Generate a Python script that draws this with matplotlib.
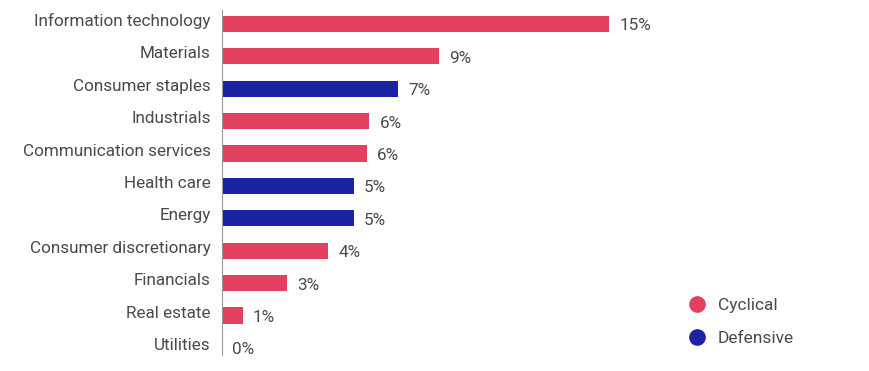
import matplotlib
matplotlib.use("Agg")
import matplotlib.pyplot as plt
import matplotlib.transforms as mtransforms
from matplotlib.lines import Line2D

sectors = ["Information technology", "Materials", "Consumer staples", "Industrials",
           "Communication services", "Health care", "Energy", "Consumer discretionary",
           "Financials", "Real estate", "Utilities"]
values = [15.0, 8.4, 6.8, 5.7, 5.6, 5.1, 5.1, 4.1, 2.5, 0.8, 0.0]
labels = ["15%", "9%", "7%", "6%", "6%", "5%", "5%", "4%", "3%", "1%", "0%"]
kinds = ["Cyclical", "Cyclical", "Defensive", "Cyclical", "Cyclical", "Defensive",
         "Defensive", "Cyclical", "Cyclical", "Cyclical", "Defensive"]

colors = {"Cyclical": "#E2405E", "Defensive": "#1C22A6"}
text_color = "#4a4a4a"
plt.rcParams['font.family'] = ['Roboto', 'DejaVu Sans']

fig = plt.figure(figsize=(8.7, 3.71), dpi=100)
ax = fig.add_axes([222 / 870, 0, 1 - 222 / 870, 1])
y = list(range(len(sectors)))
ax.barh(y, values, height=0.5, color=[colors[k] for k in kinds])
for yi, v, lab in zip(y, values, labels):
    ax.text(v + 0.4, yi + 0.06, lab, va="center", ha="left", fontsize=12.3, color=text_color)
ax.set_xlim(0, 25.1)
ax.set_ylim(10.71, -0.74)
ax.set_yticks(y)
ax.set_yticklabels(sectors, fontsize=12.3, color=text_color)
ax.tick_params(axis="y", length=0, pad=8)
off = mtransforms.ScaledTranslation(0, 4 / 100, fig.dpi_scale_trans)
for t in ax.get_yticklabels():
    t.set_transform(t.get_transform() + off)
ax.set_xticks([])
for s in ["top", "right", "bottom"]:
    ax.spines[s].set_visible(False)
ax.spines["left"].set_color("#999999")
ax.spines["left"].set_bounds(-0.43, 10.22)
ax.patch.set_alpha(0)

handles = [Line2D([], [], marker="o", linestyle="", markersize=11,
                  markerfacecolor=colors[k], markeredgecolor=colors[k]) for k in ["Cyclical", "Defensive"]]
leg = fig.legend(handles, ["Cyclical", "Defensive"], loc="center left",
                 bbox_to_anchor=(671 / 870, 1 - 322 / 371), frameon=False,
                 fontsize=12.5, labelcolor=text_color, handletextpad=0.6,
                 labelspacing=1.0, handlelength=1.2)

fig.savefig("out.png", dpi=100)
